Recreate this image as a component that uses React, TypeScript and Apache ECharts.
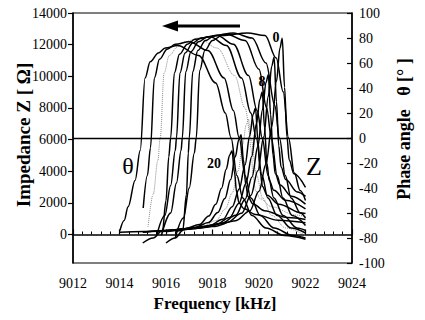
import React, { useEffect, useRef } from "react";
import * as echarts from "echarts";

// ---- data (frequency kHz, value) ----
const X_MIN = 9012;
const X_MAX = 9024;
const Z_TICKS = [0, 2000, 4000, 6000, 8000, 10000, 12000, 14000];

// Phase angle curves (degrees), left to right
const THETA_1 = [[9014.02,-74],[9014.2,-66],[9014.37,-55],[9014.67,-34],[9014.89,-10],[9015.1,48],[9015.32,61],[9015.67,68],[9015.97,72],[9016.5,74],[9017.4,66],[9018.14,44],[9018.55,20],[9018.8,0],[9019.05,-30],[9019.3,-48],[9019.7,-62],[9020.3,-72],[9021.1,-78],[9022,-81]];
const THETA_2 = [[9015.02,-56],[9015.2,-30],[9015.33,-8],[9015.5,48],[9015.72,63],[9016.05,71],[9016.4,75],[9017.0,77],[9017.8,70],[9018.5,48],[9018.9,22],[9019.15,0],[9019.4,-30],[9019.65,-48],[9020.05,-62],[9020.65,-72],[9021.45,-78],[9022,-80]];
const THETA_3 = [[9015.23,-71],[9015.45,-45],[9015.65,-18],[9015.75,0],[9015.92,52],[9016.14,66],[9016.5,73],[9016.8,77],[9017.4,80],[9018.2,72],[9018.95,50],[9019.4,24],[9019.65,0],[9019.9,-30],[9020.15,-48],[9020.55,-62],[9021.15,-72],[9022,-78]];
const THETA_4 = [[9015.0,-84],[9015.45,-80],[9015.85,-74],[9016.0,-50],[9016.12,-15],[9016.2,0],[9016.36,52],[9016.58,67],[9016.92,75],[9017.25,79],[9017.9,81],[9018.6,74],[9019.25,48],[9019.65,20],[9019.88,0],[9020.13,-30],[9020.38,-48],[9020.78,-62],[9021.38,-72],[9022,-76]];
const THETA_5 = [[9015.6,-78],[9015.95,-62],[9016.2,-38],[9016.4,-10],[9016.45,0],[9016.6,52],[9016.82,68],[9017.15,76],[9017.5,80],[9018.2,82],[9018.9,75],[9019.55,50],[9019.92,22],[9020.14,0],[9020.39,-30],[9020.64,-48],[9021.04,-62],[9021.64,-72],[9022,-74]];
const THETA_6 = [[9015.8,-78],[9016.2,-60],[9016.45,-36],[9016.65,-10],[9016.7,0],[9016.85,53],[9017.07,69],[9017.4,77],[9017.8,81],[9018.6,83],[9019.4,78],[9020.0,55],[9020.33,24],[9020.53,0],[9020.78,-30],[9021.03,-48],[9021.43,-62],[9022,-70]];
const THETA_7 = [[9016.0,-84],[9016.4,-80],[9016.72,-74],[9016.88,-45],[9016.96,-12],[9017.0,0],[9017.15,53],[9017.37,70],[9017.7,78],[9018.1,82],[9018.9,84],[9019.7,80],[9020.3,60],[9020.68,26],[9020.88,0],[9021.13,-30],[9021.38,-48],[9021.78,-60],[9022,-64]];
const THETA_8 = [[9016.4,-80],[9016.75,-64],[9017.0,-40],[9017.22,-12],[9017.3,0],[9017.45,54],[9017.67,70],[9018.0,78],[9018.4,82],[9019.5,84],[9020.26,82],[9020.74,64],[9021.04,37],[9021.27,0],[9021.52,-28],[9021.77,-42],[9022,-50]];

// Impedance curves (ohm), left to right
const Z_1 = [[9014.02,150],[9015.84,210],[9016.84,370],[9017.44,640],[9017.84,1170],[9018.14,1910],[9018.39,2920],[9018.59,4130],[9018.74,5030],[9018.84,5300],[9018.94,3980],[9019.04,2650],[9019.14,2010],[9019.34,1640],[9019.84,1270],[9020.84,900],[9022,740]];
const Z_2 = [[9015.02,160],[9016.23,250],[9017.23,440],[9017.83,760],[9018.23,1390],[9018.53,2270],[9018.78,3470],[9018.98,4910],[9019.13,5990],[9019.23,6300],[9019.33,4730],[9019.43,3150],[9019.53,2390],[9019.73,1950],[9020.23,1510],[9021.23,1070],[9022,950]];
const Z_3 = [[9015.23,170],[9016.55,290],[9017.55,510],[9018.15,880],[9018.55,1610],[9018.85,2630],[9019.1,4020],[9019.3,5690],[9019.45,6940],[9019.55,7300],[9019.65,5480],[9019.75,3650],[9019.85,2770],[9020.05,2260],[9020.55,1750],[9021.55,1240],[9022,1130]];
const Z_4 = [[9015.0,150],[9016.85,320],[9017.85,560],[9018.45,960],[9018.85,1760],[9019.15,2880],[9019.4,4400],[9019.6,6240],[9019.75,7600],[9019.85,8000],[9019.95,6000],[9020.05,4000],[9020.15,3040],[9020.35,2480],[9020.85,1920],[9021.85,1360],[9022,1330]];
const Z_5 = [[9015.6,170],[9017.14,360],[9018.14,630],[9018.74,1080],[9019.14,1980],[9019.44,3240],[9019.69,4950],[9019.89,7020],[9020.04,8550],[9020.14,9000],[9020.24,6750],[9020.34,4500],[9020.44,3420],[9020.64,2790],[9021.14,2160],[9022,1620]];
const Z_6 = [[9015.8,180],[9017.4,400],[9018.4,710],[9019.0,1210],[9019.4,2220],[9019.7,3640],[9019.95,5560],[9020.15,7880],[9020.3,9600],[9020.4,10100],[9020.5,7580],[9020.6,5050],[9020.7,3840],[9020.9,3130],[9021.4,2420],[9022,1920]];
const Z_7 = [[9016.0,180],[9017.65,450],[9018.65,780],[9019.25,1340],[9019.65,2460],[9019.95,4030],[9020.2,6160],[9020.4,8740],[9020.55,10640],[9020.65,11200],[9020.75,8400],[9020.85,5600],[9020.95,4260],[9021.15,3470],[9021.65,2690],[9022,2410]];
const Z_8 = [[9016.4,190],[9018.0,500],[9019.0,870],[9019.6,1490],[9020.0,2730],[9020.3,4460],[9020.55,6820],[9020.75,9670],[9020.9,11780],[9021.0,12400],[9021.1,9300],[9021.2,6200],[9021.3,4710],[9021.5,3840],[9022,2980]];

const THETA_CURVES = [THETA_1, THETA_2, THETA_3, THETA_4, THETA_5, THETA_6, THETA_7, THETA_8];
const Z_CURVES = [Z_1, Z_2, Z_3, Z_4, Z_5, Z_6, Z_7, Z_8];
const DOTTED_INDEX = 2;

const SERIF = "Liberation Serif";

export default function App() {
  const ref = useRef<HTMLDivElement>(null);

  useEffect(() => {
    if (!ref.current) return;
    const chart = echarts.init(ref.current, null, { renderer: "svg" });

    const lineStyleFor = (i: number) =>
      i === DOTTED_INDEX
        ? { color: "#8a8a8a", width: 1, type: "dotted" as const }
        : { color: "#000", width: 1.5, type: "solid" as const };

    const series: any[] = [];
    THETA_CURVES.forEach((d, i) => {
      series.push({
        type: "line",
        yAxisIndex: 1,
        data: d,
        smooth: 0.35,
        smoothMonotone: "x",
        showSymbol: false,
        lineStyle: lineStyleFor(i),
        silent: true,
        z: i === DOTTED_INDEX ? 1 : 2,
        markLine:
          i === 0
            ? {
                silent: true,
                symbol: ["none", "none"],
                label: { show: false },
                lineStyle: { color: "#000", width: 1.3, type: "solid" },
                data: [{ yAxis: 0 }],
              }
            : undefined,
      });
    });
    Z_CURVES.forEach((d, i) => {
      series.push({
        type: "line",
        yAxisIndex: 0,
        data: d,
        smooth: 0.35,
        smoothMonotone: "x",
        showSymbol: false,
        lineStyle: lineStyleFor(i),
        silent: true,
        z: i === DOTTED_INDEX ? 1 : 2,
      });
    });

    const tickLabel = {
      color: "#000",
      fontFamily: SERIF,
      fontSize: 14,
      formatter: (v: number) => String(v),
    };

    chart.setOption({
      animation: false,
      textStyle: { fontFamily: SERIF },
      grid: {
        left: 73,
        right: 73,
        top: 13,
        bottom: 57,
        show: true,
        borderColor: "#000",
        borderWidth: 1.2,
        backgroundColor: "transparent",
      },
      xAxis: {
        type: "value",
        min: X_MIN,
        max: X_MAX,
        interval: 2,
        axisLine: { lineStyle: { color: "#000", width: 1.5 } },
        axisTick: { inside: true, length: 5, lineStyle: { color: "#000", width: 1.2 } },
        minorTick: { show: true, splitNumber: 5, length: 3, lineStyle: { color: "#000" } },
        splitLine: { show: false },
        axisLabel: { ...tickLabel, margin: 13 },
      },
      yAxis: [
        {
          type: "value",
          position: "left",
          min: -1800,
          max: 14000,
          axisLine: { show: true, lineStyle: { color: "#000", width: 1.5 } },
          axisTick: { show: true, inside: false, length: 5, customValues: Z_TICKS, lineStyle: { color: "#000", width: 1.2 } },
          axisLabel: { ...tickLabel, margin: 6, customValues: Z_TICKS },
          splitLine: { show: false },
        },
        {
          type: "value",
          position: "right",
          min: -100,
          max: 100,
          interval: 20,
          axisLine: { show: true, lineStyle: { color: "#000", width: 1.5 } },
          axisTick: { show: true, inside: true, length: 5, lineStyle: { color: "#000", width: 1.2 } },
          axisLabel: { ...tickLabel, margin: 7 },
          splitLine: { show: false },
        },
      ],
      graphic: [
        { type: "line", shape: { x1: 176, y1: 26, x2: 240, y2: 26 }, style: { stroke: "#000", lineWidth: 3 } },
        { type: "polygon", shape: { points: [[162, 26], [178, 20.5], [178, 31.5]] }, style: { fill: "#000" } },
        { type: "text", x: 128, y: 166, style: { text: "θ", fontFamily: SERIF, fontSize: 24, fill: "#000", align: "center", verticalAlign: "middle" } },
        { type: "text", x: 314, y: 166, style: { text: "Z", fontFamily: SERIF, fontSize: 26, fill: "#000", align: "center", verticalAlign: "middle" } },
        { type: "text", x: 276, y: 37, style: { text: "0", fontFamily: SERIF, fontWeight: "bold", fontSize: 14, fill: "#000", align: "center", verticalAlign: "middle" } },
        { type: "text", x: 262, y: 81, style: { text: "8", fontFamily: SERIF, fontWeight: "bold", fontSize: 14, fill: "#000", align: "center", verticalAlign: "middle" } },
        { type: "text", x: 214, y: 163, style: { text: "20", fontFamily: SERIF, fontWeight: "bold", fontSize: 14, fill: "#000", align: "center", verticalAlign: "middle" } },
        { type: "text", x: 23, y: 135, rotation: Math.PI / 2, style: { text: "Impedance Z [ Ω]", fontFamily: SERIF, fontWeight: "bold", fontSize: 19, fill: "#000", align: "center", verticalAlign: "middle" } },
        { type: "text", x: 404, y: 129, rotation: Math.PI / 2, style: { text: "Phase angle   θ [° ]", fontFamily: SERIF, fontWeight: "bold", fontSize: 18, fill: "#000", align: "center", verticalAlign: "middle" } },
        { type: "text", x: 215, y: 303, style: { text: "Frequency [kHz]", fontFamily: SERIF, fontWeight: "bold", fontSize: 17, fill: "#000", align: "center", verticalAlign: "middle" } },
      ],
      series,
    });

    return () => chart.dispose();
  }, []);

  return (
    <div
      ref={ref}
      style={{ position: "fixed", left: 0, top: 0, width: 425, height: 320, background: "#fff" }}
    />
  );
}
